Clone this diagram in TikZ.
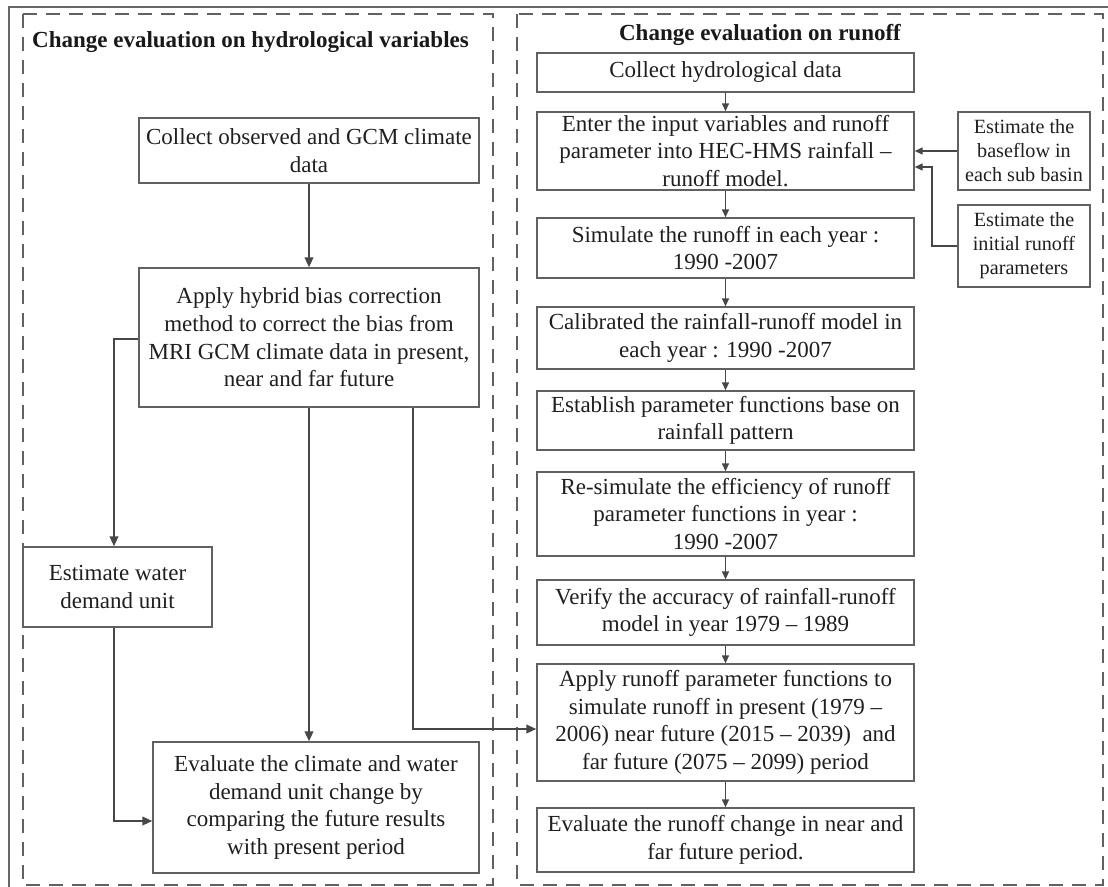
\documentclass[tikz,border=0pt]{standalone}
\usepackage{fontspec}
\setmainfont{Liberation Serif}
\usetikzlibrary{arrows.meta}

\tikzset{
  stepbox/.style={draw=black!62, line width=1.3pt, align=center, inner sep=0pt,
    text=black!88, font=\fontsize{23}{27.6}\selectfont},
  sidebox/.style={stepbox, font=\fontsize{20.2}{24}\selectfont},
  heading/.style={font=\fontsize{23}{27.6}\selectfont\bfseries, text=black!90, inner sep=0pt},
  panel/.style={draw=black!62, line width=2pt, dash pattern=on 14pt off 9pt},
  thickflow/.style={draw=black!72, line width=2.1pt, -{Triangle[length=10pt,width=8.5pt]}},
  thinflow/.style={draw=black!72, line width=1.3pt, -{Triangle[length=8pt,width=7pt]}}
}

\begin{document}
\begin{tikzpicture}[x=1pt, y=-1pt]
\useasboundingbox (0,0) rectangle (1108,886);
\clip (0,0) rectangle (1108,886);

% outer frame and the two dashed panels
\draw[draw=black!60, line width=1.4pt] (9,7) rectangle (1120,900);
\draw[panel] (23,14) rectangle (493,885);
\draw[panel] (517,14) rectangle (1103,885);

% panel headings
\node[heading, anchor=west] (lhead) at (32,42) {Change evaluation on hydrological variables};
\node[heading] (rhead) at (760,35) {Change evaluation on runoff};

% left panel: hydrological variables
\node[stepbox, minimum width=340pt, minimum height=65pt] (obs) at (309,150.5)
  {Collect observed and GCM climate\\data};
\node[stepbox, minimum width=340pt, minimum height=139pt] (bias) at (309,337.5)
  {Apply hybrid bias correction\\method to correct the bias from\\MRI GCM climate data in present,\\near and far future};
\node[stepbox, minimum width=189pt, minimum height=80pt] (water) at (117.5,587)
  {Estimate water\\demand unit};
\node[stepbox, minimum width=326pt, minimum height=131pt] (evalc) at (316,807.5)
  {Evaluate the climate and water\\demand unit change by\\comparing the future results\\with present period};

% right panel: runoff
\node[stepbox, minimum width=377pt, minimum height=39pt] (hyd) at (725.5,72.5)
  {Collect hydrological data};
\node[stepbox, minimum width=377pt, minimum height=78pt] (enter) at (725.5,151)
  {Enter the input variables and runoff\\parameter into HEC-HMS rainfall –\\runoff model.};
\node[stepbox, minimum width=377pt, minimum height=60pt] (sim) at (725.5,248)
  {Simulate the runoff in each year :\\1990 -2007};
\node[stepbox, minimum width=377pt, minimum height=62pt] (cal) at (725.5,338)
  {Calibrated the rainfall-runoff model in\\each year : 1990 -2007};
\node[stepbox, minimum width=377pt, minimum height=59pt] (est) at (725.5,420.5)
  {Establish parameter functions base on\\rainfall pattern};
\node[stepbox, minimum width=377pt, minimum height=84pt] (resim) at (725.5,514)
  {Re-simulate the efficiency of runoff\\parameter functions in year :\\1990 -2007};
\node[stepbox, minimum width=377pt, minimum height=65pt] (ver) at (725.5,612.5)
  {Verify the accuracy of rainfall-runoff\\model in year 1979 – 1989};
\node[stepbox, minimum width=377pt, minimum height=117pt] (apply) at (725.5,722.5)
  {Apply runoff parameter functions to\\simulate runoff in present (1979 –\\2006) near future (2015 – 2039)\ \ and\\far future (2075 – 2099) period};
\node[stepbox, minimum width=377pt, minimum height=64pt] (evalr) at (725.5,840)
  {Evaluate the runoff change in near and\\far future period.};

\node[sidebox, minimum width=132pt, minimum height=78pt] (base) at (1024,151)
  {Estimate the\\baseflow in\\each sub basin};
\node[sidebox, minimum width=132pt, minimum height=82pt] (init) at (1024,246)
  {Estimate the\\initial runoff\\parameters};

% bends of the connectors
\coordinate (wknee) at (114,339);
\coordinate (wlow) at (114,821);
\coordinate (rleg) at (413,729);
\coordinate (iknee) at (932,167);

% left panel connectors
\draw[thickflow] (obs) -- (bias);
\draw[thickflow] (wknee -| bias.west) -- (wknee) -- (wknee |- water.north);
\draw[thickflow] (wlow |- water.south) -- (wlow) -- (wlow -| evalc.west);
\draw[thickflow] (bias.south) -- (bias.south |- evalc.north);
\draw[thickflow] (rleg |- bias.south) -- (rleg) -- (rleg -| apply.west);

% right panel connectors
\draw[thinflow] (hyd) -- (enter);
\draw[thinflow] (enter) -- (sim);
\draw[thinflow] (sim) -- (cal);
\draw[thinflow] (cal) -- (est);
\draw[thinflow] (est) -- (resim);
\draw[thinflow] (resim) -- (ver);
\draw[thinflow] (ver) -- (apply);
\draw[thinflow] (apply) -- (evalr);
\draw[thinflow] (base.west) -- (base.west -| enter.east);
\draw[thinflow] (init.west) -- (init.west -| iknee) -- (iknee) -- (iknee -| enter.east);
\end{tikzpicture}
\end{document}
